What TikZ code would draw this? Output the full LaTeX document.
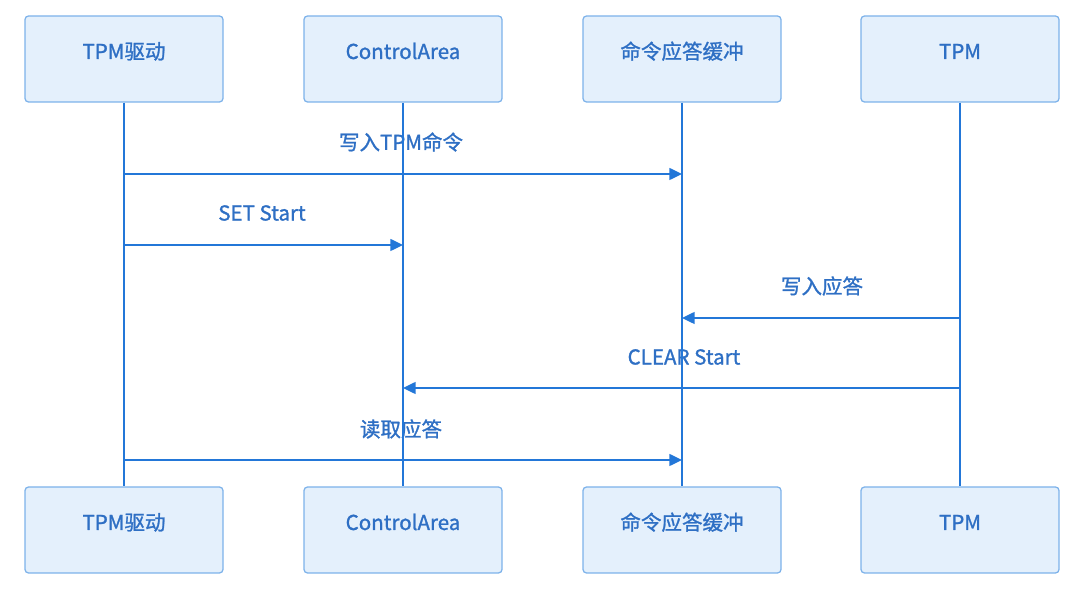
\documentclass[tikz,border=0pt]{standalone}
\usepackage{fontspec}
\setmainfont{Noto Sans CJK SC}[RawFeature={embolden=1.2}]
\usetikzlibrary{arrows.meta,positioning}
\definecolor{boxfill}{HTML}{E4F0FC}
\definecolor{boxline}{HTML}{7DB2EA}
\definecolor{lifeblue}{HTML}{2377D8}
\definecolor{txtblue}{HTML}{2E6FC4}
\begin{document}
\begin{tikzpicture}[x=0.025cm,y=-0.025cm,font=\fontsize{14.6}{16}\selectfont,
 actor/.style={draw=boxline,line width=0.9pt,fill=boxfill,rounded corners=2.5pt,
   minimum width=198*0.025cm,minimum height=86*0.025cm,inner sep=0pt,text=txtblue,
   text height=0.35cm,text depth=0.35cm},
 life/.style={draw=lifeblue,line width=1.3pt},
 msg/.style={draw=lifeblue,line width=1.1pt,-{Triangle[length=9pt,width=8.5pt]}},
 lbl/.style={text=txtblue,inner sep=0pt}]
\useasboundingbox (0,0) rectangle (1080,589);
% participants, top and bottom
\node[actor] (drvT) at (124,59) {TPM驱动};
\node[actor] (caT) at (403,59) {ControlArea};
\node[actor] (bufT) at (682,59) {命令应答缓冲};
\node[actor] (tpmT) at (960,59) {TPM};
\node[actor] (drvB) at (124,530) {TPM驱动};
\node[actor] (caB) at (403,530) {ControlArea};
\node[actor] (bufB) at (682,530) {命令应答缓冲};
\node[actor] (tpmB) at (960,530) {TPM};
% message labels
\node[lbl] (l1) at (401,142) {写入TPM命令};
\node[lbl] (l2) at (262,213) {SET Start};
\node[lbl] (l3) at (822,286) {写入应答};
\node[lbl] (l4) at (684,357) {CLEAR Start};
\node[lbl] (l5) at (401,429) {读取应答};
% lifelines
\draw[life] (drvT) -- (drvB);
\draw[life] (caT) -- (caB);
\draw[life] (bufT) -- (bufB);
\draw[life] (tpmT) -- (tpmB);
% messages
\draw[msg] (drvT |- 0,174) -- (bufT |- 0,174);
\draw[msg] (drvT |- 0,245) -- (caT |- 0,245);
\draw[msg] (tpmT |- 0,318) -- (bufT |- 0,318);
\draw[msg] (tpmT |- 0,388) -- (caT |- 0,388);
\draw[msg] (drvT |- 0,460) -- (bufT |- 0,460);
\end{tikzpicture}
\end{document}
